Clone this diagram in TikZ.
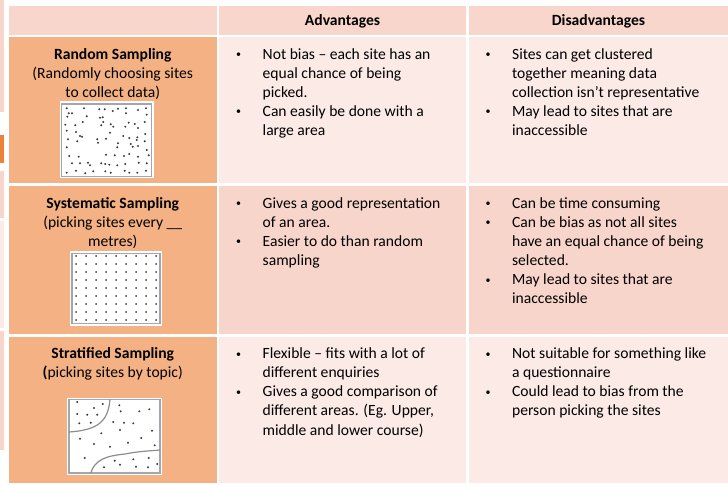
\documentclass[tikz,border=0pt]{standalone}
\usepackage{fontspec}
\setmainfont{Carlito}
\definecolor{hdrc}{HTML}{F8D6CC}
\definecolor{sidec}{HTML}{F4B183}
\definecolor{lightc}{HTML}{FBEAE6}
\definecolor{darkc}{HTML}{F8D5CB}
\definecolor{stubc}{HTML}{EE8237}
\definecolor{framec}{HTML}{A3A6AA}
\definecolor{dotc}{HTML}{3A3A3A}
\newcommand{\bl}{\makebox[28.1bp][l]{\hspace*{1.6bp}\raisebox{1.6bp}{\fontsize{10bp}{10bp}\selectfont\textbullet}}}
\newcommand{\sk}{\hspace*{28.1bp}}
\begin{document}
\begin{tikzpicture}[x=1bp,y=-1bp,
    cell/.style={inner sep=0,outer sep=0,draw=none},
    txt/.style={inner sep=0,anchor=base west,font=\fontsize{15.6bp}{19.1bp}\selectfont},
    ttl/.style={inner sep=0,anchor=base,font=\fontsize{15.6bp}{19.1bp}\selectfont},
    frame/.style={draw=framec,line width=1.3bp,fill=white},
    curve/.style={draw=framec!85!black,line width=1.2bp}]
  \fill[white] (0,0) rectangle (728,486);
  \useasboundingbox (0,0) rectangle (728,486);
  \fill[darkc] (0,0) rectangle (4.3,112);
  \fill[stubc] (0,135) rectangle (4.3,162.7);
  \fill[darkc] (0,170.7) rectangle (4.3,218.3);
  \fill[lightc] (0,220.7) rectangle (4.3,328.3);
  \fill[darkc] (0,331) rectangle (4.3,450);

  \node[cell,fill=hdrc,minimum width=207.5bp,minimum height=29bp] (hdrL) at (112.75,20.5) {};
  \node[cell,fill=hdrc,minimum width=247bp,minimum height=29bp] (hdrA) at (342.5,20.5) {};
  \node[cell,fill=hdrc,minimum width=259bp,minimum height=29bp] (hdrD) at (598.5,20.5) {};
  \node[cell,fill=sidec,minimum width=207.5bp,minimum height=145.5bp] (r1L) at (112.75,110.25) {};
  \node[cell,fill=lightc,minimum width=247bp,minimum height=145.5bp] (r1A) at (342.5,110.25) {};
  \node[cell,fill=lightc,minimum width=259bp,minimum height=145.5bp] (r1D) at (598.5,110.25) {};
  \node[cell,fill=sidec,minimum width=207.5bp,minimum height=147.5bp] (r2L) at (112.75,259.75) {};
  \node[cell,fill=darkc,minimum width=247bp,minimum height=147.5bp] (r2A) at (342.5,259.75) {};
  \node[cell,fill=darkc,minimum width=259bp,minimum height=147.5bp] (r2D) at (598.5,259.75) {};
  \node[cell,fill=sidec,minimum width=207.5bp,minimum height=146bp] (r3L) at (112.75,410) {};
  \node[cell,fill=lightc,minimum width=247bp,minimum height=146bp] (r3A) at (342.5,410) {};
  \node[cell,fill=lightc,minimum width=259bp,minimum height=146bp] (r3D) at (598.5,410) {};

  \node[ttl] (hA) at (342.5,25.5) {\textbf{Advantages}};
  \node[ttl] (hD) at (598.5,25.5) {\textbf{Disadvantages}};

  \node[ttl] (randT) at (112.75,59.3) {\begin{tabular}[t]{@{}c@{}}
    \textbf{Random Sampling}\\ (Randomly choosing sites\\ to collect data)\end{tabular}};
  \node[ttl] (systT) at (112.75,208.4) {\begin{tabular}[t]{@{}c@{}}
    \textbf{Systematic Sampling}\\ (picking sites every \_\_\\ metres)\end{tabular}};
  \node[ttl] (stratT) at (112.75,358.6) {\begin{tabular}[t]{@{}c@{}}
    \textbf{Stratified Sampling}\\ \textbf{(}picking sites by topic)\end{tabular}};

  \node[txt] (randA) at (234.4,59.3) {\begin{tabular}[t]{@{}l@{}}
    \bl Not bias – each site has an\\ \sk equal chance of being\\ \sk picked.\\
    \bl Can easily be done with a\\ \sk large area\end{tabular}};
  \node[txt] (randD) at (483.8,59.3) {\begin{tabular}[t]{@{}l@{}}
    \bl Sites can get clustered\\ \sk together meaning data\\ \sk collection isn’t representative\\
    \bl May lead to sites that are\\ \sk inaccessible\end{tabular}};
  \node[txt] (systA) at (234.4,208.4) {\begin{tabular}[t]{@{}l@{}}
    \bl Gives a good representation\\ \sk of an area.\\
    \bl Easier to do than random\\ \sk sampling\end{tabular}};
  \node[txt] (systD) at (483.8,208.4) {\begin{tabular}[t]{@{}l@{}}
    \bl Can be time consuming\\
    \bl Can be bias as not all sites\\ \sk have an equal chance of being\\ \sk selected.\\
    \bl May lead to sites that are\\ \sk inaccessible\end{tabular}};
  \node[txt] (stratA) at (234.4,358.6) {\begin{tabular}[t]{@{}l@{}}
    \bl Flexible – fits with a lot of\\ \sk different enquiries\\
    \bl Gives a good comparison of\\ \sk different areas. (Eg. Upper,\\ \sk middle and lower course)\end{tabular}};
  \node[txt] (stratD) at (483.8,358.6) {\begin{tabular}[t]{@{}l@{}}
    \bl Not suitable for something like\\ \sk a questionnaire\\
    \bl Could lead to bias from the\\ \sk person picking the sites\end{tabular}};

  \fill[white] (59.5,101) rectangle (153.5,178.5);
  \draw[frame] (61.5,104) rectangle (151.5,176.5);
  \foreach \p in {(66.7,108.3),(84,108.3),(99.3,109.3),(104.7,109.3),(112.7,111),(118,108.7),
      (126,108.3),(138,110),(146,108.3),(68.7,113.3),(72,113.3),(126,113.3),(146.7,114.7),
      (67.3,116.7),(86.7,116.3),(100,117.7),(102.7,117.3),(82.7,122),(103.3,122),(110.7,124.3),
      (128.7,122.7),(144.7,122),(134.7,124),(65.3,124.7),(75.3,125.3),(101.3,125.3),(113.3,126.7),
      (125.3,126.7),(138,128),(66.7,130.7),(76,132),(80,136),(82,136.7),(97.3,139.3),(110,132.7),
      (123.3,136),(129.3,138),(137.3,137.3),(145.3,134),(68,139.3),(77.3,141.3),(98,142.7),
      (106,138.7),(118,143.3),(130.7,144),(136.7,140),(144.7,141.3),(66.7,147.3),(117.3,147.3),
      (132.7,146.7),(138,146),(146.7,150),(69.3,156),(78.7,156.7),(106,154.7),(114.7,155.3),
      (124,156),(129.3,154),(138,156.7),(148.7,155.3),(72,163.3),(80,163.3),(88,162.7),(90,165.3),
      (101.3,163.3),(105.3,164),(109.3,164.7),(117.3,165.3),(125.3,164),(138.7,162.7),(146.7,163.3),
      (66.7,172.7),(76,170.7),(85.3,173.3),(93.3,171.3),(105.3,171.3),(110.7,172.7),(124.7,170.7),
      (129.3,172.7),(137.3,172.7),(146,170.7)}
    \fill[dotc] \p circle[radius=1.1];

  \fill[white] (70,251.5) rectangle (162,325.5);
  \draw[frame] (72,253.5) rectangle (160,323.5);
  \foreach \i in {0,...,8}
    \foreach \j in {0,...,8}
      \fill[dotc] (76+10*\i,256+8*\j) circle[radius=1];

  \fill[white] (67,397.5) rectangle (162,475);
  \draw[frame] (69,399.5) rectangle (160,473);
  \draw[curve] (110,399.5) .. controls (108,420) and (100,430) .. (69,432);
  \draw[curve] (90.7,473) .. controls (95,460) and (105,456) .. (125,454)
    .. controls (140,451) and (150,451) .. (160,450);
  \foreach \p in {(77.3,402),(94,408),(102.7,404),(119.3,405.3),(120.7,411.3),(139.3,411.3),
      (149.3,409.3),(77.3,414),(87.3,414.7),(97.3,414.7),(79.3,423.3),(90.7,422.7),(113.3,422),
      (124,422.7),(133.3,423.3),(120,430),(152,430.7),(101.3,433.3),(80,438.7),(94,444),
      (110,446.7),(128,442.7),(141.3,438),(154.7,445.3),(84.7,458),(114.7,460.7),(120,464.7),
      (133.3,459.3),(148.7,458),(104,467.3),(136,466.7),(148,467.3),(157.3,464)}
    \fill[dotc] \p circle[radius=1.1];
\end{tikzpicture}
\end{document}
